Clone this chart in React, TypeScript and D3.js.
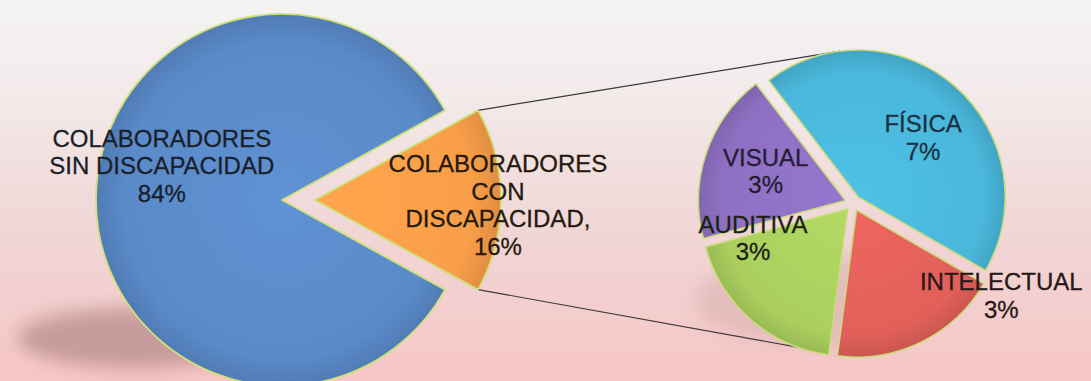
import React from 'react';
import * as d3 from 'd3';

const W = 1091;
const H = 381;

// primary pie
const mainCategories = ['COLABORADORES SIN DISCAPACIDAD', 'COLABORADORES CON DISCAPACIDAD'];
const mainValues = [84, 16];
const mainLabelLines = [['COLABORADORES', 'SIN DISCAPACIDAD'], ['COLABORADORES', 'CON', 'DISCAPACIDAD,']];

// secondary pie (breakdown of the 16%)
const subCategories = ['FÍSICA', 'INTELECTUAL', 'AUDITIVA', 'VISUAL'];
const subValues = [7, 3, 3, 3];

const mainColors = ['#5a8ac9', '#f99e49'];
const mainTextColors = ['#1a1f2a', '#241a0e'];
const subColors = ['#4ab7db', '#e2605a', '#aacf5e', '#8e70c3'];
const subTextColors = ['#1b3040', '#261818', '#1a2212', '#261d32'];

// label placement: [angle in degrees, distance in px] from the slice's own centre
const mainLabelPos = [[286, 125], [91.6, 183]];
const subLabelPos = [[47.4, 88], [120.5, 168], [253, 99], [290.3, 85]];

const FONT = "'Liberation Sans', Arial, sans-serif";
const FS = 24;
const LH = 27.5;
const rad = (deg: number) => (deg * Math.PI) / 180;

const polar = (cx: number, cy: number, a: number, d: number): [number, number] => [
  cx + d * Math.sin(a),
  cy - d * Math.cos(a),
];

const Label = ({ x, y, lines, color }: { x: number; y: number; lines: string[]; color: string }) => {
  const first = y - ((lines.length - 1) * LH) / 2 + FS * 0.358;
  return (
    <text
      x={x}
      y={first}
      textAnchor="middle"
      fontFamily={FONT}
      fontSize={FS}
      fill={color}
      stroke={color}
      strokeWidth={0.3}
    >
      {lines.map((l, i) => (
        <tspan key={i} x={x} y={first + i * LH}>
          {l}
        </tspan>
      ))}
    </text>
  );
};

export default function App() {
  // primary pie geometry
  const mc = { x: 282, y: 200 };
  const mr = 186;
  const share = mainValues[1] / d3.sum(mainValues);
  const mStart = Math.PI / 2 + Math.PI * share;
  const mainArcs = d3
    .pie<number>()
    .sort(null)
    .value((d) => d)
    .startAngle(mStart)
    .endAngle(mStart + 2 * Math.PI)(mainValues);
  const mainExplode = [0, 33];
  const mArc = d3.arc<d3.PieArcDatum<number>>().innerRadius(0).outerRadius(mr);

  // secondary pie geometry
  const sc = { x: 853, y: 203 };
  const sr = 147;
  const sStart = rad(-37.5);
  const subArcs = d3
    .pie<number>()
    .sort(null)
    .value((d) => d)
    .startAngle(sStart)
    .endAngle(sStart + 2 * Math.PI)(subValues);
  const subExplode = 8;
  const sArc = d3.arc<d3.PieArcDatum<number>>().innerRadius(0).outerRadius(sr);

  const centreOf = (a: d3.PieArcDatum<number>, c: { x: number; y: number }, e: number) => {
    const mid = (a.startAngle + a.endAngle) / 2;
    const [x, y] = polar(c.x, c.y, mid, e);
    return { x, y };
  };

  // connector lines from the exploded slice to the secondary pie
  const oc = centreOf(mainArcs[1], mc, mainExplode[1]);
  const topStart = polar(oc.x, oc.y, mainArcs[1].startAngle, mr);
  const botStart = polar(oc.x, oc.y, mainArcs[1].endAngle, mr);
  const fc = centreOf(subArcs[0], sc, subExplode);
  const gc = centreOf(subArcs[2], sc, subExplode);
  const topEnd = polar(fc.x, fc.y, rad(-7), sr);
  const botEnd = polar(gc.x, gc.y, rad(200), sr);

  // gradients live in each slice's translated space, so centre at 0,0
  const grad = (id: string, r: number, color: string) => {
    const base = d3.color(color)!;
    return (
      <radialGradient id={id} gradientUnits="userSpaceOnUse" cx={0} cy={0} r={r}>
        <stop offset="0%" stopColor={base.brighter(0.15).formatHex()} />
        <stop offset="85%" stopColor={color} />
        <stop offset="100%" stopColor={base.darker(0.3).formatHex()} />
      </radialGradient>
    );
  };

  return (
    <svg width={W} height={H} style={{ display: 'block' }}>
      <style>{`body{margin:0}`}</style>
      <defs>
        <linearGradient id="bg" x1="0" y1="0" x2="0" y2="1">
          <stop offset="0%" stopColor="#f4f3f3" />
          <stop offset="25%" stopColor="#f3eaea" />
          <stop offset="60%" stopColor="#f1d6d6" />
          <stop offset="100%" stopColor="#f7c6c6" />
        </linearGradient>
        <filter id="blur" x="-50%" y="-50%" width="200%" height="200%">
          <feGaussianBlur stdDeviation="9" />
        </filter>
        {mainArcs.map((a, i) => grad(`mg${i}`, mr, mainColors[i]))}
        {subArcs.map((a, i) => grad(`sg${i}`, sr, subColors[i]))}
      </defs>

      <rect width={W} height={H} fill="url(#bg)" />

      {/* shadows */}
      <ellipse cx={135} cy={338} rx={118} ry={30} fill="#a87b7b" opacity={0.6} filter="url(#blur)" />
      <ellipse cx={815} cy={300} rx={120} ry={45} fill="#b58a8a" opacity={0.25} filter="url(#blur)" />

      {/* connector lines */}
      <line x1={topStart[0]} y1={topStart[1]} x2={topEnd[0]} y2={topEnd[1]} stroke="#3a3a3a" strokeWidth={1.2} />
      <line x1={botStart[0]} y1={botStart[1]} x2={botEnd[0]} y2={botEnd[1]} stroke="#3a3a3a" strokeWidth={1.2} />

      {mainArcs.map((a, i) => {
        const c = centreOf(a, mc, mainExplode[i]);
        return (
          <path
            key={mainCategories[i]}
            d={mArc(a) || ''}
            transform={`translate(${c.x},${c.y})`}
            fill={`url(#mg${i})`}
            stroke="#cfe07a"
            strokeWidth={1.8}
            strokeLinejoin="round"
          />
        );
      })}

      {subArcs.map((a, i) => {
        const c = centreOf(a, sc, subExplode);
        return (
          <path
            key={subCategories[i]}
            d={sArc(a) || ''}
            transform={`translate(${c.x},${c.y})`}
            fill={`url(#sg${i})`}
            stroke="#c9dc7c"
            strokeWidth={1.6}
            strokeLinejoin="round"
          />
        );
      })}

      {mainArcs.map((a, i) => {
        const c = centreOf(a, mc, mainExplode[i]);
        const [x, y] = polar(c.x, c.y, rad(mainLabelPos[i][0]), mainLabelPos[i][1]);
        return (
          <Label
            key={i}
            x={x}
            y={y}
            lines={[...mainLabelLines[i], `${mainValues[i]}%`]}
            color={mainTextColors[i]}
          />
        );
      })}

      {subArcs.map((a, i) => {
        const c = centreOf(a, sc, subExplode);
        const [x, y] = polar(c.x, c.y, rad(subLabelPos[i][0]), subLabelPos[i][1]);
        return (
          <Label key={i} x={x} y={y} lines={[subCategories[i], `${subValues[i]}%`]} color={subTextColors[i]} />
        );
      })}
    </svg>
  );
}
